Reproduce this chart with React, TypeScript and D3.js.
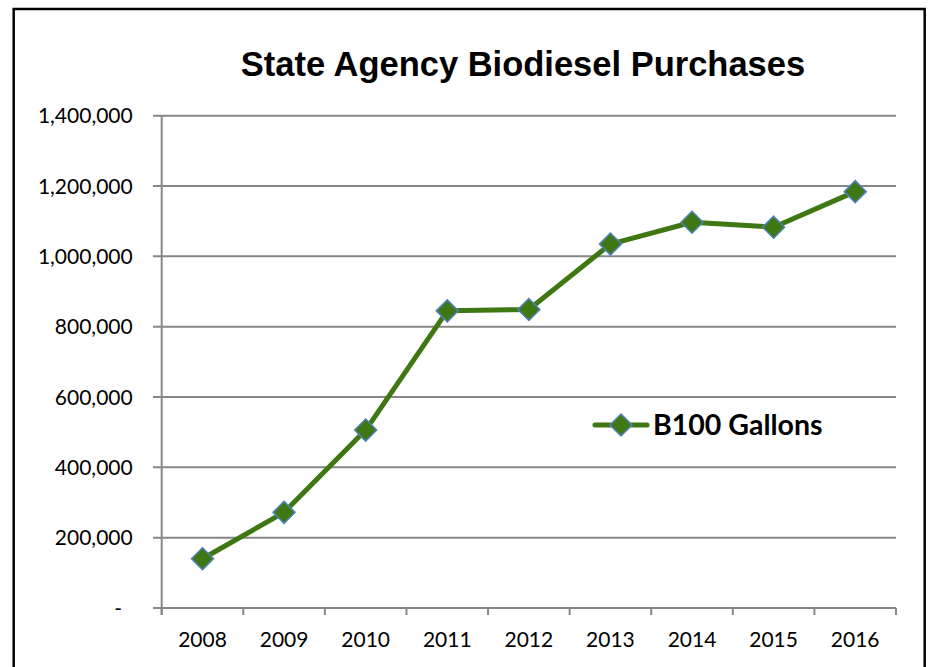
import React from "react";
import * as d3 from "d3";

const years = ["2008", "2009", "2010", "2011", "2012", "2013", "2014", "2015", "2016"];
const gallons = [140000, 272000, 506000, 845000, 849000, 1035000, 1097000, 1083000, 1184000];
const yTicks = [0, 200000, 400000, 600000, 800000, 1000000, 1200000, 1400000];
const title = "State Agency Biodiesel Purchases";
const seriesName = "B100 Gallons";

const W = 928;
const H = 667;
const left = 161.7;
const right = 896;
const top = 115.7;
const bottom = 608;

const green = "#3f7713";
const blue = "#4f81bd";
const grid = "#878787";

export default function App() {
  const x = d3.scaleBand<string>().domain(years).range([left, right]);
  const y = d3.scaleLinear().domain([0, 1400000]).range([bottom, top]);
  const fmt = d3.format(",");
  const line = d3
    .line<number>()
    .x((_, i) => (x(years[i]) as number) + x.bandwidth() / 2)
    .y((d) => y(d));
  const diamond = (cx: number, cy: number, r: number) =>
    `M${cx},${cy - r}L${cx + r},${cy}L${cx},${cy + r}L${cx - r},${cy}Z`;
  const boundaries = [...years.map((yr) => x(yr) as number), right];

  const legendY = 425;
  return (
    <svg width={W} height={H} style={{ position: "absolute", left: 0, top: 0, background: "#fff" }}>
      <rect x={13.7} y={9} width={911} height={720} fill="#fff" stroke="#000" strokeWidth={2.5} />
      <text
        x={523}
        y={76}
        textAnchor="middle"
        fontFamily="'Liberation Sans', Arial, sans-serif"
        fontWeight="bold"
        fontSize={34.5}
        fill="#000"
      >
        {title}
      </text>
      {/* gridlines */}
      {yTicks.map((t) => (
        <line key={t} x1={153} x2={right} y1={y(t)} y2={y(t)} stroke={grid} strokeWidth={2} />
      ))}
      {/* y axis */}
      <line x1={left} x2={left} y1={top} y2={bottom + 7} stroke={grid} strokeWidth={2} />
      {/* x ticks */}
      {boundaries.map((b, i) => (
        <line key={i} x1={b} x2={b} y1={bottom} y2={bottom + 7} stroke={grid} strokeWidth={2} />
      ))}
      {/* y labels */}
      {yTicks.map((t) => (
        <text
          key={t}
          x={t === 0 ? 122 : 132.7}
          y={y(t)}
          dy="0.36em"
          textAnchor="end"
          fontFamily="Lato, sans-serif"
          fontSize={21}
          fill="#000"
        >
          {t === 0 ? "-" : fmt(t)}
        </text>
      ))}
      {/* x labels */}
      {years.map((yr) => (
        <text
          key={yr}
          x={(x(yr) as number) + x.bandwidth() / 2}
          y={646.7}
          textAnchor="middle"
          fontFamily="Lato, sans-serif"
          fontSize={21}
          fill="#000"
        >
          {yr}
        </text>
      ))}
      {/* series line */}
      <path d={line(gallons) || ""} fill="none" stroke={green} strokeWidth={5} strokeLinejoin="round" strokeLinecap="round" />
      {gallons.map((v, i) => (
        <path
          key={i}
          d={diamond((x(years[i]) as number) + x.bandwidth() / 2, y(v), 11)}
          fill={green}
          stroke={blue}
          strokeWidth={1.5}
        />
      ))}
      {/* legend */}
      <line x1={595} x2={647} y1={legendY} y2={legendY} stroke={green} strokeWidth={5} strokeLinecap="round" />
      <path d={diamond(621, legendY, 11)} fill={green} stroke={blue} strokeWidth={1.5} />
      <text
        x={653}
        y={legendY}
        dy="0.36em"
        fontFamily="Lato, sans-serif"
        fontWeight="bold"
        fontSize={28.5}
        fill="#000"
      >
        {seriesName}
      </text>
    </svg>
  );
}
